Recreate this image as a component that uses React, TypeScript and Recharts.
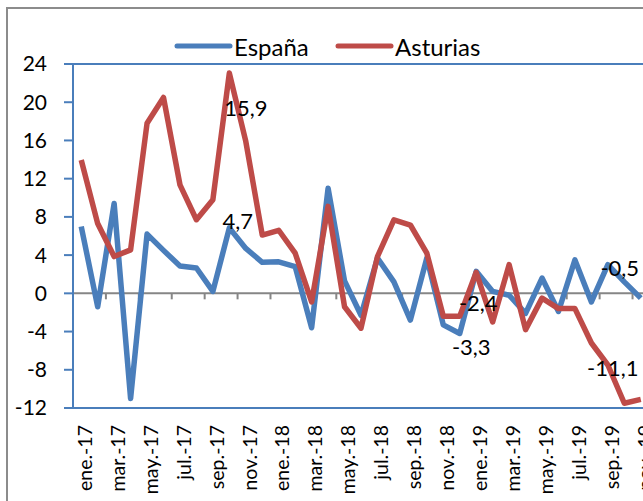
import {
  LabelList,
  Legend,
  Line,
  LineChart,
  ReferenceLine,
  XAxis,
  YAxis,
} from "recharts";

const meses = [
  "ene.-17", "feb.-17", "mar.-17", "abr.-17", "may.-17", "jun.-17",
  "jul.-17", "ago.-17", "sep.-17", "oct.-17", "nov.-17", "dic.-17",
  "ene.-18", "feb.-18", "mar.-18", "abr.-18", "may.-18", "jun.-18",
  "jul.-18", "ago.-18", "sep.-18", "oct.-18", "nov.-18", "dic.-18",
  "ene.-19", "feb.-19", "mar.-19", "abr.-19", "may.-19", "jun.-19",
  "jul.-19", "ago.-19", "sep.-19", "oct.-19", "nov.-19",
];

const espana = [
  7.0, -1.4, 9.4, -11.0, 6.2, 4.5, 2.85, 2.65, 0.2, 6.85, 4.7, 3.25,
  3.3, 2.8, -3.6, 11.0, 1.3, -2.3, 3.7, 1.2, -2.8, 3.7, -3.3, -4.2,
  2.3, 0.2, -0.2, -2.1, 1.6, -1.9, 3.5, -0.9, 3.0, 1.2, -0.5,
];

const asturias = [
  13.95, 7.3, 3.85, 4.55, 17.8, 20.5, 11.35, 7.7, 9.8, 23.05, 15.9, 6.1,
  6.6, 4.2, -0.9, 9.1, -1.4, -3.65, 3.85, 7.7, 7.15, 4.2, -2.4, -2.4,
  2.2, -3.0, 3.0, -3.8, -0.5, -1.6, -1.6, -5.2, -7.5, -11.5, -11.1,
];

const yTicks = [-12, -8, -4, 0, 4, 8, 12, 16, 20, 24];

const data = meses.map((mes, i) => ({ mes, espana: espana[i], asturias: asturias[i] }));

const BLUE = "#4a7ebb";
const RED = "#be4b48";
const GRAY = "#868686";
const FONT = "Lato, 'Open Sans', sans-serif";

const CHART_W = 660;
const PLOT_LEFT = 73;
const PLOT_RIGHT_MARGIN = 11;
const HALF_STEP = (CHART_W - PLOT_LEFT - PLOT_RIGHT_MARGIN) / meses.length / 2;

// where the value labels sit, relative to their point (index -> [dx, dy])
const espanaLabels: Record<number, [number, number]> = { 10: [-8, -28], 22: [28, 22], 34: [-21, -31] };
const asturiasLabels: Record<number, [number, number]> = { 10: [0, -34], 22: [35, -14], 34: [-28, -32] };

const fmt = (v: number) => v.toFixed(1).replace(".", ",");

function makeLabel(offsets: Record<number, [number, number]>) {
  return (props: any) => {
    const { x, y, value, index } = props;
    const off = offsets[index];
    if (!off) return null;
    return (
      <text
        x={x + off[0]}
        y={y + off[1]}
        textAnchor="middle"
        dominantBaseline="central"
        fontSize={22}
        fontFamily={FONT}
        fill="#000"
      >
        {fmt(value)}
      </text>
    );
  };
}

function MonthTick({ x, y, payload }: any) {
  return (
    <g transform={`translate(${x},${y})`}>
      <text
        transform="rotate(-90)"
        x={-15}
        y={0}
        dy="0.55em"
        textAnchor="end"
        fontSize={19.5}
        fontFamily={FONT}
        fill="#000"
      >
        {payload.value}
      </text>
    </g>
  );
}

// zero axis with small tick marks every two months, on the month boundaries
function ZeroAxis(props: any) {
  const { y1 } = props;
  const left = PLOT_LEFT;
  const right = CHART_W - PLOT_RIGHT_MARGIN;
  const n = meses.length;
  const marks = [];
  for (let k = 0; k <= n; k += 2) {
    const xx = left + ((right - left) * k) / n;
    marks.push(<line key={k} x1={xx} x2={xx} y1={y1} y2={y1 + 6} stroke={GRAY} strokeWidth={2} />);
  }
  return (
    <g>
      <line x1={left} y1={y1} x2={right} y2={y1} stroke={GRAY} strokeWidth={2} />
      {marks}
    </g>
  );
}

function LegendBox() {
  return (
    <svg width={330} height={40} style={{ display: "block" }}>
      <line x1={9} x2={62} y1={18} y2={18} stroke={BLUE} strokeWidth={5} strokeLinecap="round" />
      <text x={66} y={18} dominantBaseline="central" fontSize={24} fontFamily={FONT} fill="#000">
        España
      </text>
      <line x1={170} x2={223} y1={18} y2={18} stroke={RED} strokeWidth={5} strokeLinecap="round" />
      <text x={227} y={18} dominantBaseline="central" fontSize={24} fontFamily={FONT} fill="#000">
        Asturias
      </text>
    </svg>
  );
}

export default function App() {
  return (
    <div
      style={{
        position: "fixed",
        left: 0,
        top: 0,
        width: 643,
        height: 501,
        overflow: "hidden",
        background: "#fff",
      }}
    >
      <div style={{ position: "absolute", left: 0, top: 0 }}>
        <LineChart
          width={CHART_W}
          height={501}
          data={data}
          margin={{ top: 64, right: PLOT_RIGHT_MARGIN, bottom: 0, left: 0 }}
        >
          <XAxis
            dataKey="mes"
            interval={1}
            height={93}
            padding={{ left: HALF_STEP, right: HALF_STEP }}
            axisLine={{ stroke: BLUE, strokeWidth: 2 }}
            tickLine={false}
            tickSize={0}
            tick={<MonthTick />}
          />
          <YAxis
            domain={[-12, 24]}
            ticks={yTicks}
            interval={0}
            width={PLOT_LEFT}
            axisLine={{ stroke: BLUE, strokeWidth: 2 }}
            tickLine={{ stroke: BLUE, strokeWidth: 2 }}
            tickSize={9}
            tickMargin={17}
            tick={{ fontSize: 21, fontFamily: FONT, fill: "#000" }}
          />
          <ReferenceLine y={24} stroke={BLUE} strokeWidth={2} />
          <ReferenceLine y={0} shape={<ZeroAxis />} />
          <Legend
            layout="horizontal"
            verticalAlign="middle"
            align="center"
            wrapperStyle={{ top: 28, left: 168, width: 330 }}
            content={() => <LegendBox />}
          />
          <Line
            dataKey="espana"
            name="España"
            stroke={BLUE}
            strokeWidth={5.5}
            strokeLinejoin="round"
            dot={false}
            activeDot={false}
            isAnimationActive={false}
          >
            <LabelList dataKey="espana" content={makeLabel(espanaLabels)} />
          </Line>
          <Line
            dataKey="asturias"
            name="Asturias"
            stroke={RED}
            strokeWidth={5.5}
            strokeLinejoin="round"
            dot={false}
            activeDot={false}
            isAnimationActive={false}
          >
            <LabelList dataKey="asturias" content={makeLabel(asturiasLabels)} />
          </Line>
        </LineChart>
      </div>
      {/* outer chart frame, only its top and left edges are inside the picture */}
      <div
        style={{
          position: "absolute",
          left: 6,
          top: 7,
          width: 700,
          height: 600,
          borderLeft: "2px solid #8c8c8c",
          borderTop: "2px solid #8c8c8c",
          pointerEvents: "none",
          zIndex: 2,
        }}
      />
    </div>
  );
}
